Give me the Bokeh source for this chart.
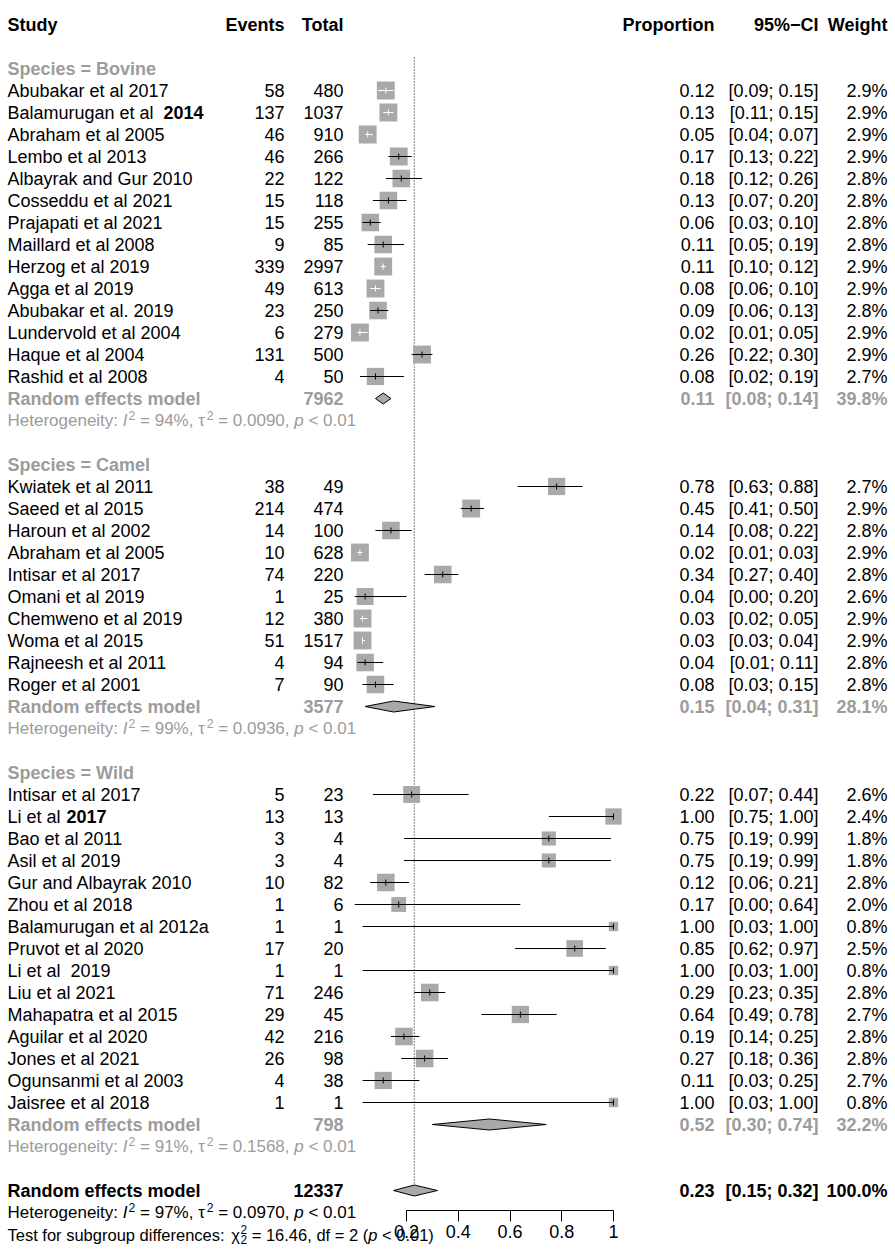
import numpy as np
from bokeh.plotting import figure
from bokeh.models import Range1d, LinearAxis, FixedTicker, ColumnDataSource
from bokeh.core.properties import value
from bokeh.embed import file_html
from bokeh.resources import INLINE

# ---------------- data ----------------
bovine_study = ["Abubakar et al 2017", "Balamurugan et al 2014", "Abraham et al 2005", "Lembo et al 2013",
                "Albayrak and Gur 2010", "Cosseddu et al 2021", "Prajapati et al 2021", "Maillard et al 2008",
                "Herzog et al 2019", "Agga et al 2019", "Abubakar et al. 2019", "Lundervold et al 2004",
                "Haque et al 2004", "Rashid et al 2008"]
bovine_events = [58, 137, 46, 46, 22, 15, 15, 9, 339, 49, 23, 6, 131, 4]
bovine_total = [480, 1037, 910, 266, 122, 118, 255, 85, 2997, 613, 250, 279, 500, 50]
bovine_prop = [0.12, 0.13, 0.05, 0.17, 0.18, 0.13, 0.06, 0.11, 0.11, 0.08, 0.09, 0.02, 0.26, 0.08]
bovine_lower = [0.09, 0.11, 0.04, 0.13, 0.12, 0.07, 0.03, 0.05, 0.10, 0.06, 0.06, 0.01, 0.22, 0.02]
bovine_upper = [0.15, 0.15, 0.07, 0.22, 0.26, 0.20, 0.10, 0.19, 0.12, 0.10, 0.13, 0.05, 0.30, 0.19]
bovine_weight = [2.9, 2.9, 2.9, 2.9, 2.8, 2.8, 2.8, 2.8, 2.9, 2.9, 2.8, 2.9, 2.9, 2.7]

camel_study = ["Kwiatek et al 2011", "Saeed et al 2015", "Haroun et al 2002", "Abraham et al 2005",
               "Intisar et al 2017", "Omani et al 2019", "Chemweno et al 2019", "Woma et al 2015",
               "Rajneesh et al 2011", "Roger et al 2001"]
camel_events = [38, 214, 14, 10, 74, 1, 12, 51, 4, 7]
camel_total = [49, 474, 100, 628, 220, 25, 380, 1517, 94, 90]
camel_prop = [0.78, 0.45, 0.14, 0.02, 0.34, 0.04, 0.03, 0.03, 0.04, 0.08]
camel_lower = [0.63, 0.41, 0.08, 0.01, 0.27, 0.00, 0.02, 0.03, 0.01, 0.03]
camel_upper = [0.88, 0.50, 0.22, 0.03, 0.40, 0.20, 0.05, 0.04, 0.11, 0.15]
camel_weight = [2.7, 2.9, 2.8, 2.9, 2.8, 2.6, 2.9, 2.9, 2.8, 2.8]

wild_study = ["Intisar et al 2017", "Li et al 2017", "Bao et al 2011", "Asil et al 2019",
              "Gur and Albayrak 2010", "Zhou et al 2018", "Balamurugan et al 2012a", "Pruvot et al 2020",
              "Li et al \u00a02019", "Liu et al 2021", "Mahapatra et al 2015", "Aguilar et al 2020",
              "Jones et al 2021", "Ogunsanmi et al 2003", "Jaisree et al 2018"]
wild_events = [5, 13, 3, 3, 10, 1, 1, 17, 1, 71, 29, 42, 26, 4, 1]
wild_total = [23, 13, 4, 4, 82, 6, 1, 20, 1, 246, 45, 216, 98, 38, 1]
wild_prop = [0.22, 1.00, 0.75, 0.75, 0.12, 0.17, 1.00, 0.85, 1.00, 0.29, 0.64, 0.19, 0.27, 0.11, 1.00]
wild_lower = [0.07, 0.75, 0.19, 0.19, 0.06, 0.00, 0.03, 0.62, 0.03, 0.23, 0.49, 0.14, 0.18, 0.03, 0.03]
wild_upper = [0.44, 1.00, 0.99, 0.99, 0.21, 0.64, 1.00, 0.97, 1.00, 0.35, 0.78, 0.25, 0.36, 0.25, 1.00]
wild_weight = [2.6, 2.4, 1.8, 1.8, 2.8, 2.0, 0.8, 2.5, 0.8, 2.8, 2.7, 2.8, 2.8, 2.7, 0.8]

subgroups = ["Bovine", "Camel", "Wild"]
sub_total = [7962, 3577, 798]
sub_prop = [0.11, 0.15, 0.52]
sub_lower = [0.08, 0.04, 0.30]
sub_upper = [0.14, 0.31, 0.74]
sub_weight = [39.8, 28.1, 32.2]
sub_i2 = [94, 99, 91]
sub_tau2 = [0.0090, 0.0936, 0.1568]
sub_pval = ["< 0.01", "< 0.01", "< 0.01"]

overall_total = 12337
overall_prop = 0.23
overall_lower = 0.15
overall_upper = 0.32
overall_weight = 100.0
overall_i2 = 97
overall_tau2 = 0.0970
overall_pval = "< 0.01"
test_chi2 = 16.46
test_df = 2
test_pval = "< 0.01"

bold_year_studies = ["Balamurugan et al 2014", "Li et al 2017"]

tick_values = [0.2, 0.4, 0.6, 0.8, 1.0]
tick_labels = ["0.2", "0.4", "0.6", "0.8", "1"]

header_labels = ["Study", "Events", "Total", "Proportion", "95%\u2212CI", "Weight"]

# ---------------- layout ----------------
W, H = 892, 1254
X_ZERO_PX = 354.25
X_UNIT_PX = 258.75
ROW0_Y = 24.0
ROW_H = 22.0
AXIS_Y_PX = 1210.0
FONT = "Liberation Sans"
FS = "18px"
FS_HET = 17.0
GRAY = "#9c9c9c"
BOX = "#a9a9a9"
COL_STUDY = 7
COL_EVENTS = 284
COL_TOTAL = 343
COL_PROP = 714
COL_CI = 818
COL_WEIGHT = 887
BOLD_YEAR_X = {"Balamurugan et al 2014": 163, "Li et al 2017": 66}

p = figure(width=W, height=H,
           x_range=Range1d(0, W),
           y_range=Range1d((H - ROW0_Y) / ROW_H, (0 - ROW0_Y) / ROW_H),
           output_backend="svg", toolbar_location=None,
           x_axis_type=None, y_axis_type=None,
           min_border=0, outline_line_color=None)
p.extra_x_ranges = {"prop": Range1d((0 - X_ZERO_PX) / X_UNIT_PX, (W - X_ZERO_PX) / X_UNIT_PX)}


def add_text(xs, ys, texts, align="left", bold=False, color="black", italic=False, size=FS):
    style = "bold" if bold else ("italic" if italic else "normal")
    src = ColumnDataSource(dict(x=list(xs), y=list(ys), t=list(texts)))
    p.text(x="x", y="y", text="t", source=src, text_align=align, text_baseline="middle",
           text_font=value(FONT), text_font_size=size, text_font_style=style, text_color=color)


# approximate Arial / Liberation Sans advance widths (1/1000 em)
CW = {' ': 278, '%': 889, '(': 333, ')': 333, ',': 278, '.': 278, ':': 278, '<': 584, '=': 584,
      'H': 722, 'I': 278, 'T': 611, 'a': 556, 'b': 556, 'c': 500, 'd': 556, 'e': 556, 'f': 278,
      'g': 556, 'i': 222, 'n': 556, 'o': 556, 'p': 556, 'r': 333, 's': 500, 't': 278, 'u': 556,
      'y': 500, '\u03c4': 440, '\u03c7': 500}
for dch in "0123456789":
    CW[dch] = 556


def tw(s, size):
    return sum(CW.get(ch, 556) for ch in s) / 1000.0 * size


def rich_line(x, row, pieces, color, size):
    """pieces: list of (text, kind) kind in n, i, sup, supsub"""
    small = size * 0.72
    up = 5.5 / ROW_H
    down = 4.5 / ROW_H
    cur = x
    for txt, kind in pieces:
        if kind in ("n", "i"):
            stripped = txt.lstrip(" ")
            cur += tw(txt[:len(txt) - len(stripped)], size)
            add_text([cur], [row], [stripped], "left", False, color, kind == "i", "%.1fpx" % size)
            cur += tw(stripped, size)
        elif kind == "sup":
            add_text([cur + 1], [row - up], [txt], "left", False, color, False, "%.1fpx" % small)
            cur += tw(txt, small) + 1
        elif kind == "supsub":
            add_text([cur + 1], [row - up], [txt], "left", False, color, False, "%.1fpx" % small)
            add_text([cur + 1], [row + down], [txt], "left", False, color, False, "%.1fpx" % small)
            cur += tw(txt, small) + 1


def het_pieces(i2, tau2, pval):
    return [("Heterogeneity: ", "n"), ("I", "i"), ("2", "sup"), (" = %d%%, " % i2, "n"),
            ("\u03c4", "n"), ("2", "sup"), (" = %.4f, " % tau2, "n"), ("p", "i"), (" %s" % pval, "n")]


def fmt_ci(lo, hi):
    return "[%.2f; %.2f]" % (lo, hi)


# header
add_text([COL_STUDY], [0], [header_labels[0]], "left", True)
add_text([COL_EVENTS, COL_TOTAL, COL_PROP, COL_CI, COL_WEIGHT], [0] * 5, header_labels[1:], "right", True)

groups = [
    (bovine_study, bovine_events, bovine_total, bovine_prop, bovine_lower, bovine_upper, bovine_weight),
    (camel_study, camel_events, camel_total, camel_prop, camel_lower, camel_upper, camel_weight),
    (wild_study, wild_events, wild_total, wild_prop, wild_lower, wild_upper, wild_weight),
]

st_rows, st_names, st_ev, st_tot, st_p, st_lo, st_hi, st_w = [], [], [], [], [], [], [], []
bold_rows, bold_txt, bold_x = [], [], []
sub_rows, head_rows, het_rows = [], [], []
row = 2
for gi, (names, ev, tot, pr, lo, hi, w) in enumerate(groups):
    head_rows.append(row)
    row += 1
    for k in range(len(names)):
        st_rows.append(row)
        nm = names[k]
        if nm in bold_year_studies:
            parts = nm.rsplit(" ", 1)
            st_names.append(parts[0])
            bold_rows.append(row)
            bold_txt.append(parts[1])
            bold_x.append(BOLD_YEAR_X[nm])
        else:
            st_names.append(nm)
        st_ev.append(ev[k]); st_tot.append(tot[k]); st_p.append(pr[k])
        st_lo.append(lo[k]); st_hi.append(hi[k]); st_w.append(w[k])
        row += 1
    sub_rows.append(row)
    het_rows.append(row + 1)
    row += 3
overall_row = row
overall_het_row = row + 1
test_row = row + 2

# subgroup headers
add_text([COL_STUDY] * 3, head_rows, ["Species = %s" % s for s in subgroups], "left", True, GRAY)

# study rows text
add_text([COL_STUDY] * len(st_rows), st_rows, st_names)
add_text(bold_x, bold_rows, bold_txt, "left", True)
add_text([COL_EVENTS] * len(st_rows), st_rows, [str(v) for v in st_ev], "right")
add_text([COL_TOTAL] * len(st_rows), st_rows, [str(v) for v in st_tot], "right")
add_text([COL_PROP] * len(st_rows), st_rows, ["%.2f" % v for v in st_p], "right")
add_text([COL_CI] * len(st_rows), st_rows, [fmt_ci(a, b) for a, b in zip(st_lo, st_hi)], "right")
add_text([COL_WEIGHT] * len(st_rows), st_rows, ["%.1f%%" % v for v in st_w], "right")

# subgroup model rows
add_text([COL_STUDY] * 3, sub_rows, ["Random effects model"] * 3, "left", True, GRAY)
add_text([COL_TOTAL] * 3, sub_rows, [str(v) for v in sub_total], "right", True, GRAY)
add_text([COL_PROP] * 3, sub_rows, ["%.2f" % v for v in sub_prop], "right", True, GRAY)
add_text([COL_CI] * 3, sub_rows, [fmt_ci(a, b) for a, b in zip(sub_lower, sub_upper)], "right", True, GRAY)
add_text([COL_WEIGHT] * 3, sub_rows, ["%.1f%%" % v for v in sub_weight], "right", True, GRAY)
for r, a, b, c in zip(het_rows, sub_i2, sub_tau2, sub_pval):
    rich_line(COL_STUDY, r, het_pieces(a, b, c), GRAY, FS_HET)

# overall rows
add_text([COL_STUDY], [overall_row], ["Random effects model"], "left", True)
add_text([COL_TOTAL, COL_PROP, COL_CI, COL_WEIGHT], [overall_row] * 4,
         [str(overall_total), "%.2f" % overall_prop, fmt_ci(overall_lower, overall_upper),
          "%.1f%%" % overall_weight], "right", True)
rich_line(COL_STUDY, overall_het_row, het_pieces(overall_i2, overall_tau2, overall_pval), "black", FS_HET)
rich_line(COL_STUDY, test_row,
          [("Test for subgroup differences: ", "n"), ("\u03c7", "n"), ("2", "supsub"),
           (" = %.2f, df = %d (" % (test_chi2, test_df), "n"), ("p", "i"), (" %s)" % test_pval, "n")],
          "black", 16.5)

# ---------------- forest marks ----------------
st_p_a = np.array(st_p); st_lo_a = np.array(st_lo); st_hi_a = np.array(st_hi)
side_px = 10.5 * np.sqrt(np.array(st_w))
half = side_px / 2.0 / X_UNIT_PX
inside = (st_lo_a >= st_p_a - half) & (st_hi_a <= st_p_a + half)
line_col = ["white" if v else "black" for v in inside]
rows_a = np.array(st_rows, dtype=float)

src = ColumnDataSource(dict(x=st_p_a, y=rows_a, lo=st_lo_a, hi=st_hi_a, size=side_px, lc=line_col,
                            t0=rows_a - 3.0 / ROW_H, t1=rows_a + 3.0 / ROW_H))

dh = 0.25
# dotted line at overall estimate
p.segment(x0=[overall_prop], x1=[overall_prop], y0=[1.5], y1=[overall_row - dh],
          line_color="black", line_width=1, line_dash="1 2", x_range_name="prop")

p.scatter(x="x", y="y", size="size", marker="square", source=src, fill_color=BOX, line_color=None,
          x_range_name="prop")
p.segment(x0="lo", x1="hi", y0="y", y1="y", line_color="lc", line_width=1, source=src, x_range_name="prop")
p.segment(x0="x", x1="x", y0="t0", y1="t1", line_color="lc", line_width=1, source=src, x_range_name="prop")

# diamonds
d_lo = list(sub_lower) + [overall_lower]
d_est = list(sub_prop) + [overall_prop]
d_hi = list(sub_upper) + [overall_upper]
d_rows = list(sub_rows) + [overall_row]
p.patches(xs=[[a, b, c, b] for a, b, c in zip(d_lo, d_est, d_hi)],
          ys=[[r, r - dh, r, r + dh] for r in d_rows],
          fill_color=BOX, line_color="black", line_width=1, x_range_name="prop")

# axis
ax = LinearAxis(x_range_name="prop", ticker=FixedTicker(ticks=tick_values, minor_ticks=[]),
                bounds=(min(tick_values), max(tick_values)))
ax.fixed_location = (AXIS_Y_PX - ROW0_Y) / ROW_H
ax.major_label_overrides = {v: l for v, l in zip(tick_values, tick_labels)}
ax.axis_line_color = "black"
ax.major_tick_line_color = "black"
ax.major_tick_out = 11
ax.major_tick_in = 0
ax.minor_tick_out = 0
ax.major_label_standoff = 3
ax.major_label_text_font = FONT
ax.major_label_text_font_size = FS
ax.major_label_text_color = "black"
p.add_layout(ax, "below")

open("out.html", "w").write(file_html(p, INLINE))
